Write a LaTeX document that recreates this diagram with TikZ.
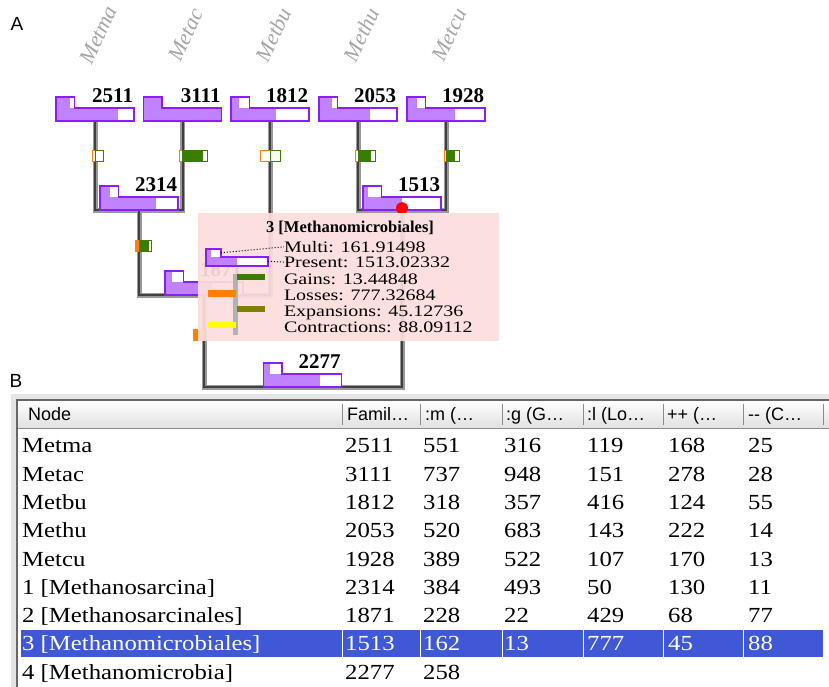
\documentclass[tikz,border=0pt]{standalone}
\usepackage{fontspec}
\setmainfont{Liberation Serif}
\setsansfont{Liberation Sans}
\newfontfamily\tabfont[FakeStretch=1.15]{Liberation Serif}
\newfontfamily\tipfont[FakeStretch=1.25]{Liberation Serif}
\usetikzlibrary{calc,positioning}
\definecolor{famfill}{RGB}{192,130,255}
\definecolor{famedge}{RGB}{138,30,245}
\definecolor{gaincol}{RGB}{58,125,0}
\definecolor{losscol}{RGB}{255,128,0}
\definecolor{expcol}{RGB}{128,128,0}
\definecolor{concol}{RGB}{255,255,0}
\definecolor{tippink}{RGB}{252,222,222}
\definecolor{selblue}{RGB}{62,88,214}
\tikzset{
fambox/.style={rectangle, minimum width=78pt, minimum height=24pt, inner sep=0pt}, % frame of a family box
famnum/.style={anchor=base east, inner sep=0pt, font=\bfseries\fontsize{21}{21}\selectfont},
taxon/.style={rotate=65, inner sep=0pt, text=black!35, font=\itshape\fontsize{22}{22}\selectfont},
branch/.style={draw=black!75, line width=2pt, preaction={draw=black!40, line width=5pt}},
panel/.style={inner sep=0pt, font=\sffamily\fontsize{19}{19}\selectfont},
%tooltip
tipbox/.style={rectangle, minimum width=301pt, minimum height=128pt, inner sep=0pt, fill=tippink, fill opacity=0.93},
tiptitle/.style={inner sep=0pt, font=\bfseries\fontsize{16.5}{16.5}\selectfont},
tiptxt/.style={anchor=base west, inner sep=0pt, font=\tipfont\fontsize{16}{16}\selectfont},
dotline/.style={dotted, line width=1pt},
%table
tabcell/.style={anchor=base west, inner sep=0pt, font=\tabfont\fontsize{21.5}{21.5}\selectfont},
headtxt/.style={anchor=base west, inner sep=0pt, font=\sffamily\fontsize{18}{18}\selectfont},
}
% family box: name, multi fill, family fill, count
\newcommand{\famshape}[4]{%
  \fill[white] (#1.north west) rectangle ($(#1.north west)+(18.5,11)$);
  \fill[white] ($(#1.north west)+(0,11)$) rectangle (#1.south east);
  \fill[famfill] (#1.north west) rectangle ($(#1.north west)+(#2,11)$);
  \fill[famfill] ($(#1.north west)+(0,11)$) rectangle ($(#1.south west)+(#3,0)$);
  \draw[famedge, line width=1.5pt] (#1.north west) -- ++(18.5,0) -- ++(0,11) -- ($(#1.north east)+(0,11)$) -- (#1.south east) -- (#1.south west) -- cycle;
  \node[famnum] (#1num) at ($(#1.north east)+(-1,6)$) {#4};
}
% gain/loss marker: point, loss width, loss fill, gain width, gain fill
\newcommand{\glmark}[5]{%
  \fill[white] ($(#1)+(-#2,-5.5)$) rectangle ($(#1)+(#4,5.5)$);
  \fill[losscol] ($(#1)+(-#2,-5.5)$) rectangle ($(#1)+(-#2+#3,5.5)$);
  \fill[gaincol] ($(#1)+(0,-5.5)$) rectangle ($(#1)+(#5,5.5)$);
  \draw[losscol, line width=1pt] ($(#1)+(-#2,-5.5)$) rectangle ($(#1)+(0,5.5)$);
  \draw[gaincol, line width=1pt] ($(#1)+(0,-5.5)$) rectangle ($(#1)+(#4,5.5)$);
}

\begin{document}
\begin{tikzpicture}[x=1pt,y=-1pt]
\useasboundingbox (0,0) rectangle (829,687);
\fill[white] (0,0) rectangle (829,687);
\node[panel] (pa) at (17,24) {A};
\node[panel] (pb) at (16,381) {B};
%Family boxes (frames only)
\node[fambox] (metma) at (95,109) {};
\node[fambox] (metac) at (182.5,109) {};
\node[fambox] (metbu) at (270,109) {};
\node[fambox] (methu) at (358,109) {};
\node[fambox] (metcu) at (446,109) {};
\node[fambox] (n1) at (139,198) {};
\node[fambox] (n3) at (402,198) {};
\node[fambox] (n2) at (204,283) {};
\node[fambox] (n4) at (302.5,375) {};
%Taxon labels
\node[taxon] (tmetma) at ($(metma.north)+(3,-62)$) {Metma};
\node[taxon] (tmetac) at ($(metac.north)+(3,-62)$) {Metac};
\node[taxon] (tmetbu) at ($(metbu.north)+(3,-62)$) {Metbu};
\node[taxon] (tmethu) at ($(methu.north)+(3,-62)$) {Methu};
\node[taxon] (tmetcu) at ($(metcu.north)+(3,-62)$) {Metcu};
%Branches
\draw[branch] (metma.south) |- (n1.south) -| (metac.south);
\draw[branch] (methu.south) |- (n3.south) -| (metcu.south);
\draw[branch] (n1.south) |- (n2.south) -| (metbu.south);
\draw[branch] (n2.south) |- (n4.south) -| (n3.south);
%Gains and losses
\coordinate (mkmetma) at ($(metma.south)+(0,35)$);
\coordinate (mkmetac) at ($(metac.south)+(0,35)$);
\coordinate (mkmetbu) at ($(metbu.south)+(0,35)$);
\coordinate (mkmethu) at ($(methu.south)+(0,35)$);
\coordinate (mkmetcu) at ($(metcu.south)+(0,35)$);
\coordinate (mkn1) at ($(n1.south)+(0,36)$);
\coordinate (mkn2) at ($(n2.south)+(0,40)$);
\glmark{mkmetma}{3}{0}{8}{1}
\glmark{mkmetac}{3.5}{0}{24.5}{20.5}
\glmark{mkmetbu}{10}{0}{10}{1}
\glmark{mkmethu}{3}{0}{17}{13}
\glmark{mkmetcu}{2}{0}{13}{9}
\glmark{mkn1}{3.5}{3.5}{12.5}{9.5}
\glmark{mkn2}{11}{11}{2}{2}
%Boxes
\famshape{metma}{14}{62}{2511}
\famshape{metac}{18.5}{78}{3111}
\famshape{metbu}{8}{45}{1812}
\famshape{methu}{13}{51}{2053}
\famshape{metcu}{10}{48}{1928}
\famshape{n1}{10}{56}{2314}
\famshape{n3}{5}{39}{1513}
\famshape{n2}{7}{47}{1871}
\famshape{n4}{7}{57}{2277}
\fill[red] ($(n3.south)+(0,-2)$) circle (6);
%Tooltip
\node[tipbox] (tip) at (348.5,277) {};
\node[tiptitle] (tiptitle) at ($(tip.north)+(1.5,15)$) {3 [Methanomicrobiales]};
\node[tiptxt] (tmulti) at ($(tip.north west)+(86,39.5)$) {Multi: 161.91498};
\node[tiptxt] (tpresent) at ($(tip.north west)+(86,54.5)$) {Present: 1513.02332};
\node[tiptxt] (tgains) at ($(tip.north west)+(86,71.5)$) {Gains: 13.44848};
\node[tiptxt] (tlosses) at ($(tip.north west)+(86,87.5)$) {Losses: 777.32684};
\node[tiptxt] (texp) at ($(tip.north west)+(86,103.5)$) {Expansions: 45.12736};
\node[tiptxt] (tcon) at ($(tip.north west)+(86,119.5)$) {Contractions: 88.09112};
\begin{scope}[shift={(tip.north west)}]
\fill[white] (8,36) rectangle (23,44);
\fill[white] (8,44) rectangle (70,53);
\fill[famfill] (8,36) rectangle (13,44);
\fill[famfill] (8,44) rectangle (39,53);
\draw[famedge, line width=1.5pt] (8,36) -- (23,36) -- (23,44) -- (70,44) -- (70,53) -- (8,53) -- cycle;
\coordinate (legtab) at (23,40);
\coordinate (legbar) at (70,48.5);
\fill[black!30] (35.5,61) rectangle (40.5,122);
\fill[gaincol] (39,61) rectangle (67,67);
\fill[losscol] (10,77) rectangle (38,84);
\fill[expcol] (39,93) rectangle (67,99);
\fill[concol] (10,109) rectangle (38,115);
\end{scope}
\draw[dotline] (legtab) -- (tmulti.west);
\draw[dotline] (legbar) -- (tpresent.west);
%Table
\fill[black!10] (11,394) rectangle (829,687);
\fill[white] (17,400) rectangle (829,687);
\shade[top color=white, bottom color=black!12] (17,401) rectangle (829,428);
\draw[black!45] (17,428) -- (829,428);
\draw[black!60, line width=1.2pt] (17,687) -- (17,400) -- (829,400);
\foreach \sx in {342,420,502,583,663,743,823}
  \draw[black!45] (\sx,404) -- (\sx,425);
\node[headtxt] (hnode) at (28,420.5) {Node};
\node[headtxt] (hfam) at (347,420.5) {Famil…};
\node[headtxt] (hmlt) at (425,420.5) {:m (…};
\node[headtxt] (hgn) at (506,420.5) {:g (G…};
\node[headtxt] (hls) at (587,420.5) {:l (Lo…};
\node[headtxt] (hxp) at (667,420.5) {++ (…};
\node[headtxt] (hct) at (748,420.5) {-{}- (C…};
\foreach \nm/\fa/\mlt/\gn/\ls/\xp/\ct [count=\i] in {Metma/2511/551/316/119/168/25, Metac/3111/737/948/151/278/28, Metbu/1812/318/357/416/124/55, Methu/2053/520/683/143/222/14, Metcu/1928/389/522/107/170/13, 1 [Methanosarcina]/2314/384/493/50/130/11, 2 [Methanosarcinales]/1871/228/22/429/68/77}{
  \node[tabcell] (row\i) at (22,{452.8+28.3*(\i-1)}) {\nm};
  \foreach \v/\cx in {\fa/345,\mlt/423,\gn/504,\ls/587,\xp/668,\ct/748}
    \node[tabcell] (row\i-\cx) at (\cx,{452.8+28.3*(\i-1)}) {\v};
}
\fill[selblue] (21,630) rectangle (823,657);
\foreach \sx in {342,420,502,583,663,743}
  \draw[white, line width=1pt] (\sx,630) -- (\sx,657);
\node[tabcell, text=white] (row8) at (22,650.9) {3 [Methanomicrobiales]};
\foreach \v/\cx in {1513/345,162/423,13/504,777/587,45/668,88/748}
  \node[tabcell, text=white] (row8-\cx) at (\cx,650.9) {\v};
\node[tabcell] (row9) at (22,679.2) {4 [Methanomicrobia]};
\node[tabcell] (row9-345) at (345,679.2) {2277};
\node[tabcell] (row9-423) at (423,679.2) {258};
\end{tikzpicture}
\end{document}
